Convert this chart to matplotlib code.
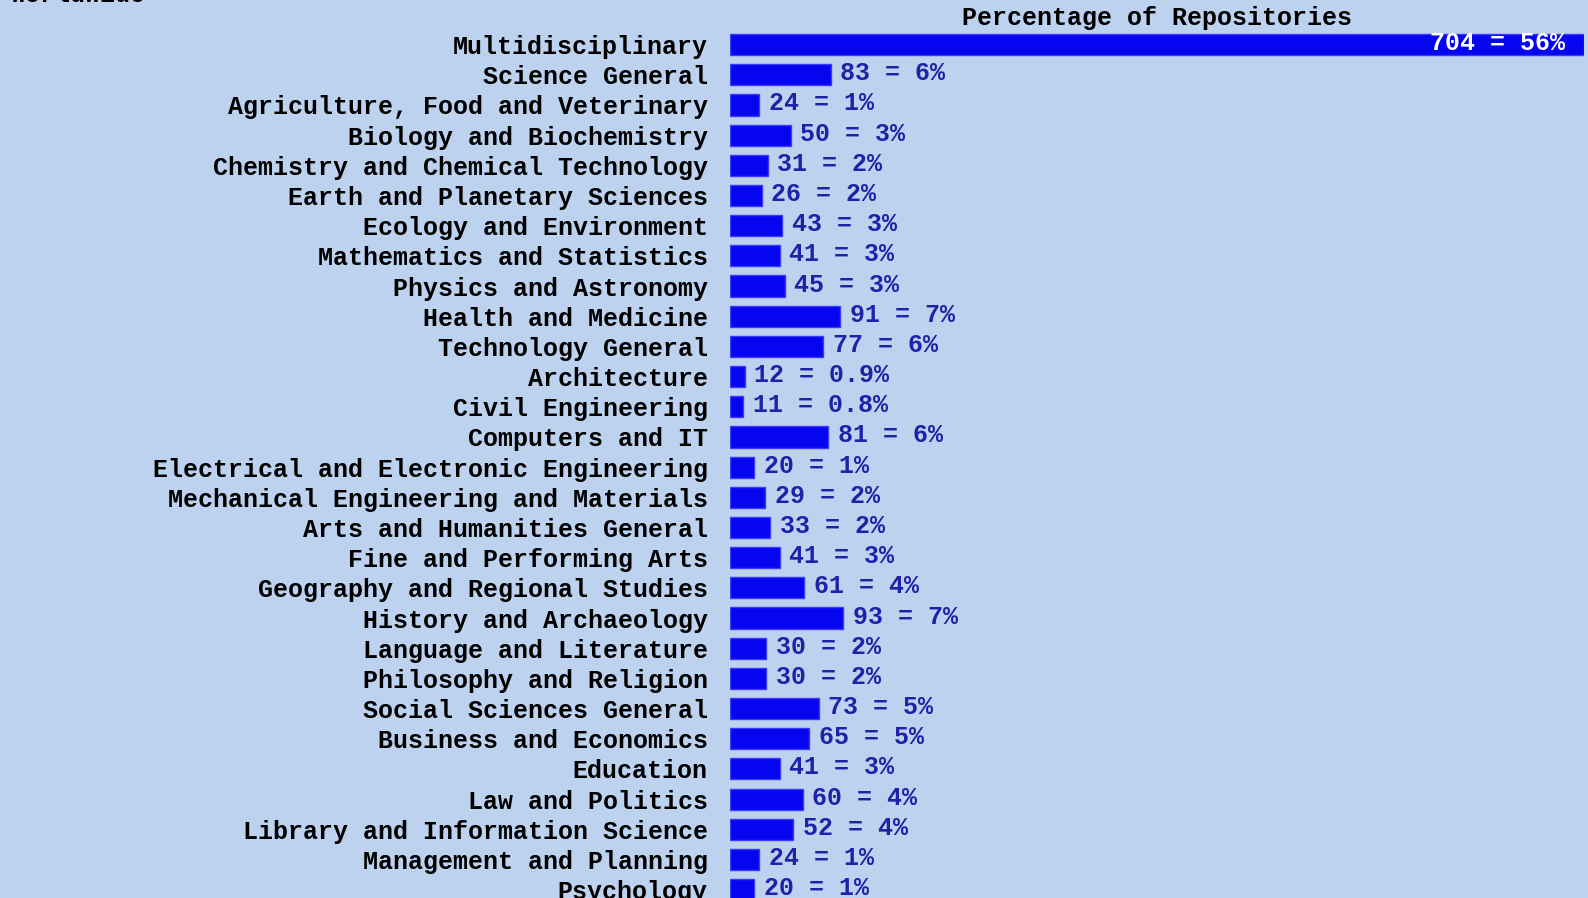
import matplotlib
matplotlib.use("Agg")
import matplotlib.pyplot as plt

categories = [
    "Multidisciplinary", "Science General", "Agriculture, Food and Veterinary",
    "Biology and Biochemistry", "Chemistry and Chemical Technology",
    "Earth and Planetary Sciences", "Ecology and Environment",
    "Mathematics and Statistics", "Physics and Astronomy", "Health and Medicine",
    "Technology General", "Architecture", "Civil Engineering", "Computers and IT",
    "Electrical and Electronic Engineering", "Mechanical Engineering and Materials",
    "Arts and Humanities General", "Fine and Performing Arts",
    "Geography and Regional Studies", "History and Archaeology",
    "Language and Literature", "Philosophy and Religion", "Social Sciences General",
    "Business and Economics", "Education", "Law and Politics",
    "Library and Information Science", "Management and Planning", "Psychology",
]
counts = [704, 83, 24, 50, 31, 26, 43, 41, 45, 91, 77, 12, 11, 81, 20, 29, 33,
          41, 61, 93, 30, 30, 73, 65, 41, 60, 52, 24, 20]
percents = ["56%", "6%", "1%", "3%", "2%", "2%", "3%", "3%", "3%", "7%", "6%",
            "0.9%", "0.8%", "6%", "1%", "2%", "2%", "3%", "4%", "7%", "2%", "2%",
            "5%", "5%", "3%", "4%", "4%", "1%", "1%"]
title = "Percentage of Repositories"
region = "Worldwide"

BG = "#bdd2ee"
BAR = "#0505f0"
FONT = dict(family="Liberation Mono", weight="bold", fontsize=18)

W, H = 1588, 898
ROW = 30.18          # px between bar centres
TOP = 44.6           # px from top to first bar centre

fig = plt.figure(figsize=(W / 100, H / 100), dpi=100, facecolor=BG)
ax = fig.add_axes([730 / W, 0, (1584 - 730) / W, 1])
ax.set_facecolor(BG)
for s in ax.spines.values():
    s.set_visible(False)

y = list(range(len(categories)))
ax.barh(y, counts, height=0.7, color=BAR, edgecolor="#3a3aff", linewidth=1)
ax.set_xlim(0, max(counts))
ax.set_ylim((H - TOP) / ROW, -TOP / ROW)
ax.set_xticks([])
ax.set_yticks(y)
ax.set_yticklabels(categories, color="black", **FONT)
ax.tick_params(axis="y", length=0, pad=16)

for i, (c, p) in enumerate(zip(counts, percents)):
    lab = f"{c} = {p}"
    if c > 0.5 * max(counts):
        ax.text(c - 16, i - 0.05, lab, ha="right", va="center", color="white", **FONT)
    else:
        ax.text(c + 8, i - 0.05, lab, ha="left", va="center", color="#2020a8", **FONT)

ax.text(max(counts) / 2, (18 - TOP) / ROW, title, ha="center", va="center",
        color="black", **FONT)
fig.text(10 / W, 1 - 2 / H, region, ha="left", va="baseline", color="black", **FONT)

fig.savefig("out.png", dpi=100, facecolor=BG)
